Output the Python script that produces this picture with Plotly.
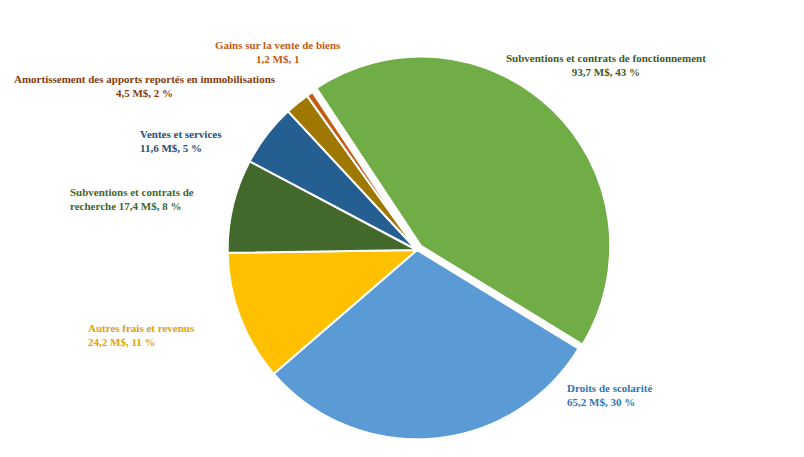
import plotly.graph_objects as go

labels = ["Subventions et contrats de fonctionnement", "Droits de scolarité",
          "Autres frais et revenus", "Subventions et contrats de recherche",
          "Ventes et services", "Amortissement des apports reportés en immobilisations",
          "Gains sur la vente de biens"]
values = [93.7, 65.2, 24.2, 17.4, 11.6, 4.5, 1.2]
colors = ["#70ad47", "#5b9bd5", "#ffc000", "#43682b", "#255e91", "#9e7800", "#c55a11"]
label_texts = [
    ("Subventions et contrats de fonctionnement<br>93,7 M$, 43 %", 598, 57, "#3f5a1f", "center"),
    ("Droits de scolarité<br>65,2 M$, 30 %", 557, 387, "#2e75b6", "left"),
    ("Autres frais et revenus<br>24,2 M$, 11 %", 78, 327, "#e6a000", "left"),
    ("Subventions et contrats de<br>recherche 17,4 M$, 8 %", 60, 191, "#43682b", "left"),
    ("Ventes et services<br>11,6 M$, 5 %", 130, 133, "#1f4e79", "left"),
    ("Amortissement des apports reportés en immobilisations<br>4,5 M$, 2 %", 137, 78, "#843c0c", "center"),
    ("Gains sur la vente de biens<br>1,2 M$, 1", 270, 44, "#c55a11", "center"),
]

W, H = 804, 457
fig = go.Figure(go.Pie(
    labels=labels, values=values, sort=False, direction="clockwise",
    rotation=-33.5, marker=dict(colors=colors, line=dict(color="white", width=2)),
    pull=[0.03, 0, 0, 0, 0, 0, 0], textinfo="none", hoverinfo="label+value+percent",
    domain=dict(x=[(409 - 195) / W, (409 + 195) / W], y=[1 - (242 + 195) / H, 1 - (242 - 195) / H]),
    showlegend=False,
))
for txt, x, y, c, anchor in label_texts:
    fig.add_annotation(text="<b>" + txt + "</b>", x=x / W, y=1 - y / H, xref="paper", yref="paper",
                       showarrow=False, xanchor=anchor, yanchor="middle", align=anchor,
                       font=dict(family="Liberation Serif", size=11, color=c))
fig.update_layout(width=W, height=H, margin=dict(l=0, r=0, t=0, b=0),
                  paper_bgcolor="white", plot_bgcolor="white")
fig.write_html("out.html")
